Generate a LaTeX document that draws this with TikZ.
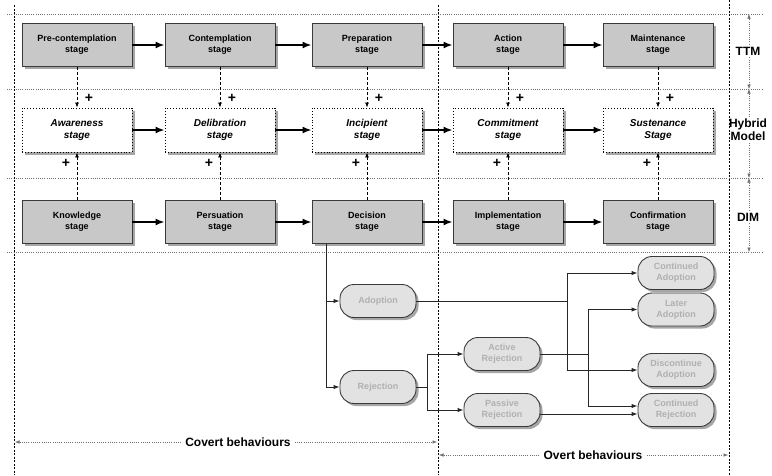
\documentclass[tikz,border=0pt]{standalone}
\usepackage{fontspec}
\setmainfont{Liberation Sans}
\usetikzlibrary{arrows.meta,shadows}
\definecolor{boxfill}{HTML}{C8C8C8}
\definecolor{boxline}{HTML}{3A3A3A}
\definecolor{roundfill}{HTML}{E2E2E2}
\definecolor{roundtext}{HTML}{B0B0B0}
\definecolor{guide}{HTML}{707070}
\begin{document}
\begin{tikzpicture}[x=1pt,y=-1pt,
  shadowed/.style={drop shadow={shadow xshift=2.5pt,shadow yshift=-2.5pt,fill=black!35,opacity=1}},
  stagebox/.style={draw=boxline,line width=0.9pt,fill=boxfill,minimum width=110pt,minimum height=43pt,align=center,font=\fontsize{9}{11}\selectfont\bfseries,shadowed,inner sep=2pt},
  hybox/.style={draw=black,dotted,line width=0.9pt,fill=white,minimum width=110pt,minimum height=44pt,align=center,font=\fontsize{10}{12.5}\selectfont\bfseries\itshape,shadowed,inner sep=2pt},
  roundbox/.style={draw=boxline,line width=0.9pt,fill=roundfill,rounded corners=14pt,minimum width=76pt,minimum height=33pt,align=center,text=roundtext,font=\fontsize{9}{11}\selectfont\bfseries,shadowed,inner sep=2pt},
  mainarrow/.style={line width=1.7pt,draw=black,-{Latex[length=9pt,width=7pt]}},
  dasharrow/.style={line width=0.8pt,dash pattern=on 3pt off 2pt,-{Latex[length=5pt,width=4pt]}},
  flowline/.style={line width=1pt,draw=black!85},
  flowarrow/.style={flowline,-{Latex[length=6pt,width=4.5pt]}},
  divider/.style={line width=0.9pt,dash pattern=on 2pt off 1.5pt},
  hguide/.style={line width=0.5pt,draw=guide,dash pattern=on 1pt off 1.2pt},
  guidearrow/.style={line width=0.5pt,draw=guide,dash pattern=on 1pt off 1.2pt,-{Latex[length=4.5pt,width=3.5pt]},color=guide},
  plus/.style={font=\fontsize{14}{14}\selectfont\bfseries,inner sep=0pt},
  sidelabel/.style={font=\fontsize{12}{13}\selectfont\bfseries,align=center,inner sep=2pt},
  biglabel/.style={font=\fontsize{12}{13}\selectfont\bfseries,inner sep=4pt}
]
\useasboundingbox (0,0) rectangle (772,475);

% guides
\foreach \yy in {14,89,178,252} \draw[hguide] (7,\yy) -- (763,\yy);
\draw[divider] (14,5) -- (14,475);
\draw[divider] (438,5) -- (438,475);
\draw[divider] (729,0) -- (729,475);

% TTM row
\node[stagebox] (t1) at (77,45) {Pre-contemplation\\stage};
\node[stagebox] (t2) at (220,45) {Contemplation\\stage};
\node[stagebox] (t3) at (367,45) {Preparation\\stage};
\node[stagebox] (t4) at (508,45) {Action\\stage};
\node[stagebox] (t5) at (658,45) {Maintenance\\stage};

% Hybrid row
\node[hybox] (h1) at (77,130) {Awareness\\stage};
\node[hybox] (h2) at (220,130) {Delibration\\stage};
\node[hybox] (h3) at (367,130) {Incipient\\stage};
\node[hybox] (h4) at (508,130) {Commitment\\stage};
\node[hybox] (h5) at (658,130) {Sustenance\\Stage};

% DIM row
\node[stagebox] (b1) at (77,222) {Knowledge\\stage};
\node[stagebox] (b2) at (220,222) {Persuation\\stage};
\node[stagebox] (b3) at (367,222) {Decision\\stage};
\node[stagebox] (b4) at (508,222) {Implementation\\stage};
\node[stagebox] (b5) at (658,222) {Confirmation\\stage};

\draw[mainarrow] (t1.east) -- (t2.west);
\draw[mainarrow] (t2.east) -- (t3.west);
\draw[mainarrow] (t3.east) -- (t4.west);
\draw[mainarrow] (t4.east) -- (t5.west);
\draw[mainarrow] (h1.east) -- (h2.west);
\draw[mainarrow] (h2.east) -- (h3.west);
\draw[mainarrow] (h3.east) -- (h4.west);
\draw[mainarrow] (h4.east) -- (h5.west);
\draw[mainarrow] (b1.east) -- (b2.west);
\draw[mainarrow] (b2.east) -- (b3.west);
\draw[mainarrow] (b3.east) -- (b4.west);
\draw[mainarrow] (b4.east) -- (b5.west);

\foreach \i in {1,...,5}{
  \draw[dasharrow] (t\i.south) -- (h\i.north);
  \node[plus] at ([xshift=12pt,yshift=9.5pt]h\i.north) {+};
  \draw[dasharrow] (b\i.north) -- (h\i.south);
  \node[plus] at ([xshift=-11pt,yshift=-11pt]h\i.south) {+};
}

% outcomes
\node[roundbox] (adopt) at (378,301) {Adoption};
\node[roundbox] (reject) at (378,387) {Rejection};
\node[roundbox] (active) at (502,354) {Active\\Rejection};
\node[roundbox] (passive) at (502,410) {Passive\\Rejection};
\node[roundbox] (cadopt) at (676,273) {Continued\\Adoption};
\node[roundbox] (ladopt) at (676,309.5) {Later\\Adoption};
\node[roundbox] (dadopt) at (676,370) {Discontinue\\Adoption};
\node[roundbox] (creject) at (676,410) {Continued\\Rejection};

\coordinate (dj) at (326,0);
\coordinate (rj) at (427,0);
\coordinate (aj) at (567,0);
\coordinate (acj) at (588,0);

\draw[flowline] (b3.south -| dj) -- (reject.west -| dj);
\draw[flowarrow] (adopt.west -| dj) -- (adopt.west);
\draw[flowarrow] (reject.west -| dj) -- (reject.west);

\draw[flowline] (adopt.east) -- (adopt.east -| aj);
\draw[flowarrow] (adopt.east -| aj) |- (cadopt.west);
\draw[flowarrow] (adopt.east -| aj) |- (dadopt.west);

\draw[flowline] (reject.east) -- (reject.east -| rj);
\draw[flowarrow] (reject.east -| rj) |- (active.west);
\draw[flowarrow] (reject.east -| rj) |- (passive.west);

\draw[flowline] (active.east) -- (active.east -| acj);
\draw[flowarrow] (active.east -| acj) |- (ladopt.west);
\draw[flowarrow] (active.east -| acj) |- ([yshift=4pt]creject.west);

\draw[flowarrow] ([yshift=-4pt]passive.east) -- ([yshift=-4pt]creject.west);

% side labels
\coordinate (rx) at (749,0);
\coordinate (g0) at (0,14);
\coordinate (g1) at (0,89);
\coordinate (g2) at (0,178);
\coordinate (g3) at (0,252);
\node[sidelabel] (ttm) at (748,51) {TTM};
\node[sidelabel] (hyb) at (748,130) {Hybrid\\Model};
\node[sidelabel] (dim) at (748,217) {DIM};
\draw[guidearrow] (ttm.north -| rx) -- (rx |- g0);
\draw[guidearrow] (ttm.south -| rx) -- (rx |- g1);
\draw[guidearrow] (hyb.north -| rx) -- (rx |- g1);
\draw[guidearrow] (hyb.south -| rx) -- (rx |- g2);
\draw[guidearrow] (dim.north -| rx) -- (rx |- g2);
\draw[guidearrow] (dim.south -| rx) -- (rx |- g3);

% bottom labels
\coordinate (lx) at (15,0);
\coordinate (mx) at (437,0);
\coordinate (mx2) at (439,0);
\coordinate (rx2) at (728,0);
\node[biglabel] (covert) at (238,442) {Covert behaviours};
\node[biglabel] (overt) at (593,455) {Overt behaviours};
\draw[guidearrow] (covert.west) -- (covert.west -| lx);
\draw[guidearrow] (covert.east) -- (covert.east -| mx);
\draw[guidearrow] (overt.west) -- (overt.west -| mx2);
\draw[guidearrow] (overt.east) -- (overt.east -| rx2);
\end{tikzpicture}
\end{document}
